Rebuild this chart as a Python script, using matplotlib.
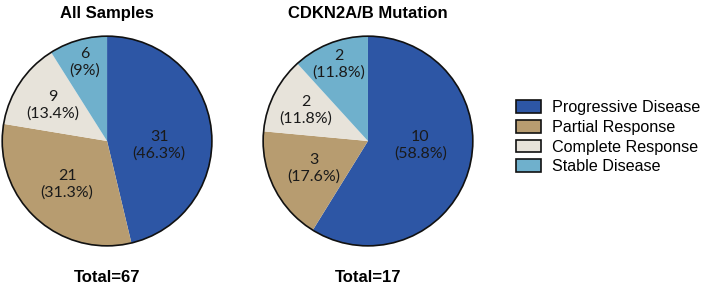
import matplotlib
matplotlib.use("Agg")
import matplotlib.pyplot as plt
from matplotlib.patches import Patch, Circle
import numpy as np

categories = ["Progressive Disease", "Partial Response", "Complete Response", "Stable Disease"]
all_samples = [31, 21, 9, 6]
cdkn2ab = [10, 3, 2, 2]
titles = ["All Samples", "CDKN2A/B Mutation"]
totals = ["Total=67", "Total=17"]
colors = ["#2D56A5", "#B79C70", "#E7E3DA", "#6FB0CC"]

label_font = "Lato"
head_font = ["Liberation Sans", "DejaVu Sans"]

fig = plt.figure(figsize=(7.09, 2.95), dpi=100)

centers = [0.151, 0.519]
rad_w, rad_h = 0.302, 0.725
label_dist = [[0.50, 0.56, 0.62, 0.78], [0.50, 0.58, 0.66, 0.78]]

for i, (vals, cx) in enumerate(zip([all_samples, cdkn2ab], centers)):
    ax = fig.add_axes([cx - rad_w / 2, 0.522 - rad_h / 2, rad_w, rad_h])
    total = sum(vals)
    wedges, _ = ax.pie(vals, colors=colors, startangle=90, counterclock=False,
                       wedgeprops=dict(linewidth=0))
    ax.add_patch(Circle((0, 0), 1, fill=False, edgecolor="#111111", linewidth=1.2))
    for j, (w, v, d) in enumerate(zip(wedges, vals, label_dist[i])):
        ang = np.deg2rad((w.theta1 + w.theta2) / 2)
        if j == 0:
            ang = np.deg2rad(-5)
        pct = v / total * 100
        ptxt = f"{pct:.1f}".rstrip("0").rstrip(".")
        ax.text(d * np.cos(ang), d * np.sin(ang), f"{v}\n({ptxt}%)", ha="center", va="center",
                fontsize=11.5, family=label_font, color="#1a1a1a", linespacing=1.2)
    ax.set_xlim(-1.02, 1.02)
    ax.set_ylim(-1.02, 1.02)
    ax.set_aspect("equal")
    ax.axis("off")
    fig.text(cx, 0.955, titles[i], ha="center", va="center", fontsize=12,
             fontweight="bold", family=head_font)
    fig.text(cx, 0.058, totals[i], ha="center", va="center", fontsize=12,
             fontweight="bold", family=head_font)

handles = [Patch(facecolor=c, edgecolor="#111111", linewidth=1.2) for c in colors]
fig.legend(handles, categories, loc="center left", bbox_to_anchor=(0.708, 0.535),
           frameon=False, prop={"family": head_font, "size": 11.6},
           handlelength=1.5, handleheight=0.85, handletextpad=0.7, labelspacing=0.3)

fig.savefig("out.png", dpi=100)
